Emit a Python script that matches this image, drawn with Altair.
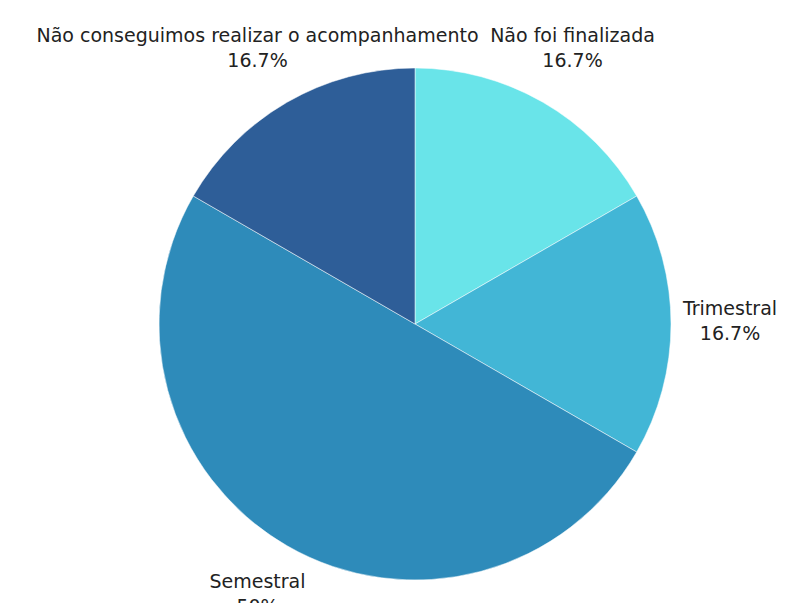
import altair as alt
import pandas as pd

categories = ["Não foi finalizada", "Trimestral", "Semestral", "Não conseguimos realizar o acompanhamento"]
values = [1, 1, 3, 1]
pct_labels = ["16.7%", "16.7%", "50%", "16.7%"]
colors = ["#69E4E9", "#42B6D6", "#2E8BBA", "#2E5E98"]

df = pd.DataFrame({
    "cat": categories,
    "val": values,
    "order": list(range(len(categories))),
    "label": [f"{c}\n{p}" for c, p in zip(categories, pct_labels)],
})

CX, CY = 407, 316

base = alt.Chart(df).encode(
    theta=alt.Theta("val:Q", stack=True),
    order=alt.Order("order:Q"),
)

pie = base.mark_arc(x=CX, y=CY, outerRadius=256, stroke="white", strokeWidth=0.5).encode(
    color=alt.Color("cat:N", scale=alt.Scale(domain=categories, range=colors), legend=None),
)

text = base.mark_text(
    x=CX, y=CY, dy=-15, font="DejaVu Sans", fontSize=19, color="#222222",
    lineBreak="\n", lineHeight=25, baseline="middle", align="center",
).encode(
    radius=alt.value(315),
    text="label:N",
)

chart = alt.layer(pie, text).properties(
    width=771, height=595, padding=0,
    autosize=alt.AutoSizeParams(type="none"),
).configure_view(stroke=None)

chart.save("out.html", embed_options={"renderer": "svg", "actions": False})
